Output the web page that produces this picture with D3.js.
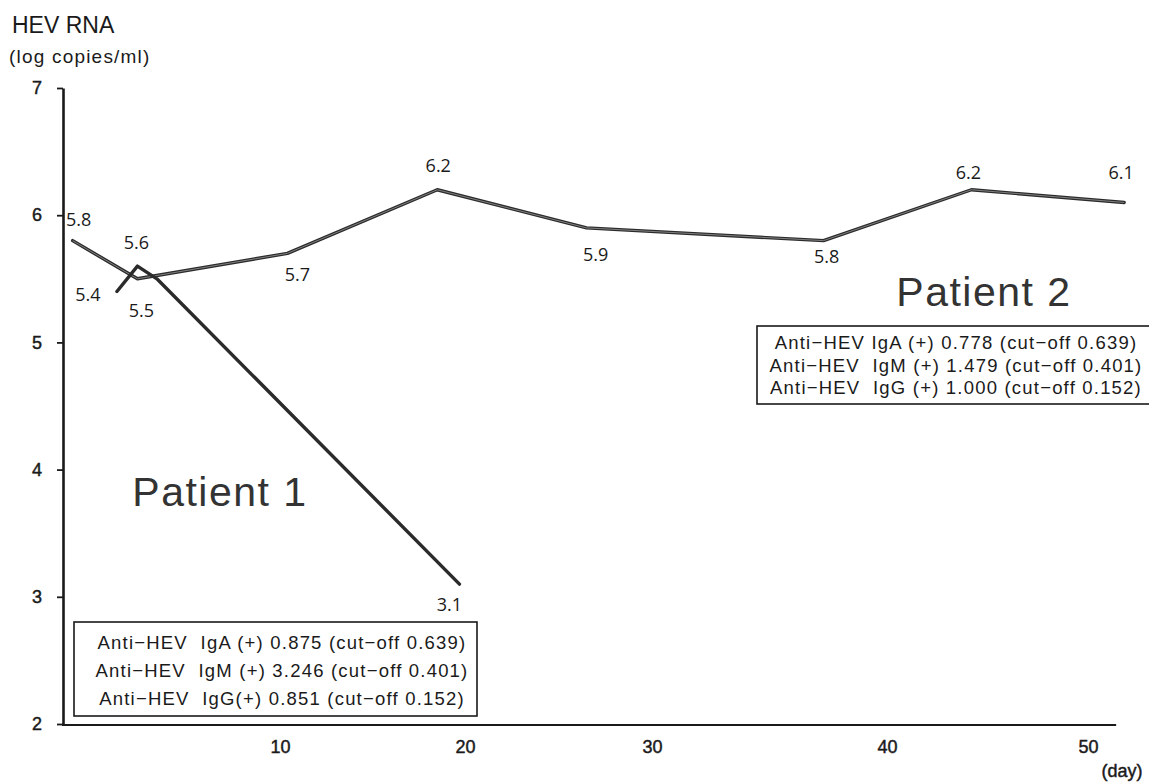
<!DOCTYPE html>
<html>
<head>
<meta charset="utf-8">
<script src="https://cdn.jsdelivr.net/npm/d3@7"></script>
<style>
  html, body { margin: 0; padding: 0; background: #fff; }
  svg { display: block; }
  .pre { white-space: pre; }
</style>
</head>
<body>
<svg id="chart" width="1149" height="784"></svg>
<script>
// ---- data -------------------------------------------------------------
// Patient 1: HEV RNA (log copies/ml) by day
const days1 = [2.45, 3.4, 4.3, 19.7];
const rna1  = [5.4, 5.6, 5.5, 3.1];
const labeled1 = [true, true, false, true];

// Patient 2
const days2 = [0.4, 3.4, 10.4, 18.5, 26.5, 37.3, 44.2, 51.8];
const rna2  = [5.8, 5.5, 5.7, 6.2, 5.9, 5.8, 6.2, 6.1];

const xTicks = [10, 20, 30, 40, 50];
const yTicks = [2, 3, 4, 5, 6, 7];
const xBreaks = [0, 10, 20, 30, 40, 50];   // day axis is drawn piecewise
const xEnd = 51.4;                          // where the day axis line stops

const box1Lines = [
  "Anti\u2212HEV  IgA (+) 0.875 (cut\u2212off 0.639)",
  "Anti\u2212HEV  IgM (+) 3.246 (cut\u2212off 0.401)",
  "Anti\u2212HEV  IgG(+) 0.851 (cut\u2212off 0.152)"
];
const box2Lines = [
  "Anti\u2212HEV IgA (+) 0.778 (cut\u2212off 0.639)",
  "Anti\u2212HEV  IgM (+) 1.479 (cut\u2212off 0.401)",
  "Anti\u2212HEV  IgG (+) 1.000 (cut\u2212off 0.152)"
];

// ---- layout -----------------------------------------------------------
// value-label offsets (px) from each point
const off1 = [[-29, 3], [-1, -23], [0, 0], [-10, 21]];
const off2 = [[6, -21], [4, 32], [10, 21], [1, -24], [9, 27], [3, 16], [-3, -17], [-3, -30]];

const svg = d3.select("#chart");
const W = 1149, H = 784;
svg.append("rect").attr("width", W).attr("height", H).attr("fill", "#fff");

const x = d3.scaleLinear().domain(xBreaks).range([64, 280, 465, 652, 887, 1088]);
const y = d3.scaleLinear().domain([2, 7]).range([724, 88]);

const axisFont = "'Liberation Sans', Arial, sans-serif";
const ink = "#1a1a1a";

function heavy(sel) {
  sel.attr("stroke", ink).attr("stroke-width", 0.45).attr("paint-order", "stroke");
}

// y axis
const gy = svg.append("g")
  .attr("transform", `translate(${x(0) - 1},0)`)
  .call(d3.axisLeft(y).tickValues(yTicks).tickFormat(d3.format("d"))
    .tickSize(6).tickSizeOuter(0).tickPadding(15));
gy.select(".domain").attr("stroke", ink).attr("stroke-width", 2.6);
gy.selectAll(".tick line").attr("stroke", ink).attr("stroke-width", 1.8);
gy.selectAll(".tick text")
  .attr("fill", ink).attr("font-family", axisFont).attr("font-size", 18).call(heavy);

// x axis
const gx = svg.append("g")
  .attr("transform", `translate(0,${y(2) + 1})`)
  .call(d3.axisBottom(x).tickValues(xTicks).tickSize(0).tickPadding(15));
gx.select(".domain").remove();
gx.append("line")
  .attr("x1", x(0) - 2).attr("x2", x(xEnd))
  .attr("stroke", ink).attr("stroke-width", 2.2);
gx.selectAll(".tick text")
  .attr("fill", ink).attr("font-family", axisFont).attr("font-size", 18).call(heavy);

// axis titles
svg.append("text").attr("x", 12).attr("y", 33)
  .attr("font-family", axisFont).attr("font-size", 23).attr("fill", ink)
  .text("HEV RNA");
svg.append("text").attr("x", 9).attr("y", 63)
  .attr("font-family", axisFont).attr("font-size", 19).attr("letter-spacing", 1.2)
  .attr("fill", ink).text("(log copies/ml)");
svg.append("text").attr("x", 1122).attr("y", 777).attr("text-anchor", "middle")
  .attr("font-family", axisFont).attr("font-size", 18).attr("fill", ink)
  .call(heavy).text("(day)");

// lines
const line = d3.line().x(d => x(d[0])).y(d => y(d[1]));
const pts1 = days1.map((d, i) => [d, rna1[i]]);
const pts2 = days2.map((d, i) => [d, rna2[i]]);

svg.append("path").datum(pts2).attr("d", line)
  .attr("fill", "none").attr("stroke", "#2b2b2b").attr("stroke-width", 3.4)
  .attr("stroke-linejoin", "round").attr("stroke-linecap", "round");
svg.append("path").datum(pts2).attr("d", line)
  .attr("fill", "none").attr("stroke", "#8a8a8a").attr("stroke-width", 0.9)
  .attr("stroke-linejoin", "round");
svg.append("path").datum(pts1).attr("d", line)
  .attr("fill", "none").attr("stroke", "#2b2b2b").attr("stroke-width", 3.4)
  .attr("stroke-linejoin", "round").attr("stroke-linecap", "round");

// value labels
const valFont = "'Open Sans', 'Noto Sans', sans-serif";
function valueLabels(pts, offs, show) {
  svg.append("g").selectAll("text")
    .data(pts.map((p, i) => ({ p, o: offs[i], s: show ? show[i] : true })).filter(d => d.s))
    .join("text")
    .attr("x", d => x(d.p[0]) + d.o[0])
    .attr("y", d => y(d.p[1]) + d.o[1])
    .attr("dy", "0.35em")
    .attr("text-anchor", "middle")
    .attr("font-family", valFont).attr("font-size", 18).attr("fill", ink)
    .text(d => d.p[1].toFixed(1));
}
valueLabels(pts2, off2);
valueLabels(pts1, off1, labeled1);

// patient names
const nameFont = "'Liberation Sans', Arial, sans-serif";
svg.append("text").attr("x", 220).attr("y", 492).attr("dy", "0.35em")
  .attr("text-anchor", "middle").attr("font-family", nameFont).attr("font-size", 41)
  .attr("letter-spacing", 1.5).attr("fill", "#333").text("Patient 1");
svg.append("text").attr("x", 984).attr("y", 292).attr("dy", "0.35em")
  .attr("text-anchor", "middle").attr("font-family", nameFont).attr("font-size", 41)
  .attr("letter-spacing", 1.5).attr("fill", "#333").text("Patient 2");

// antibody boxes
function infoBox(x0, y0, w, h, lines, cx, lineYs) {
  const g = svg.append("g");
  g.append("rect").attr("x", x0).attr("y", y0).attr("width", w).attr("height", h)
    .attr("fill", "#fff").attr("stroke", ink).attr("stroke-width", 1.6);
  g.selectAll("text").data(lines).join("text")
    .attr("class", "pre")
    .attr("x", cx).attr("y", (d, i) => lineYs[i]).attr("dy", "0.35em")
    .attr("text-anchor", "middle")
    .attr("font-family", axisFont).attr("font-size", 18.5)
    .attr("letter-spacing", 1.2).attr("fill", ink)
    .text(d => d);
}
infoBox(74, 622, 403, 94, box1Lines, 282, [643, 671, 699]);
infoBox(757, 326, 400, 78, box2Lines, 956, [343, 366, 388]);
</script>
</body>
</html>
